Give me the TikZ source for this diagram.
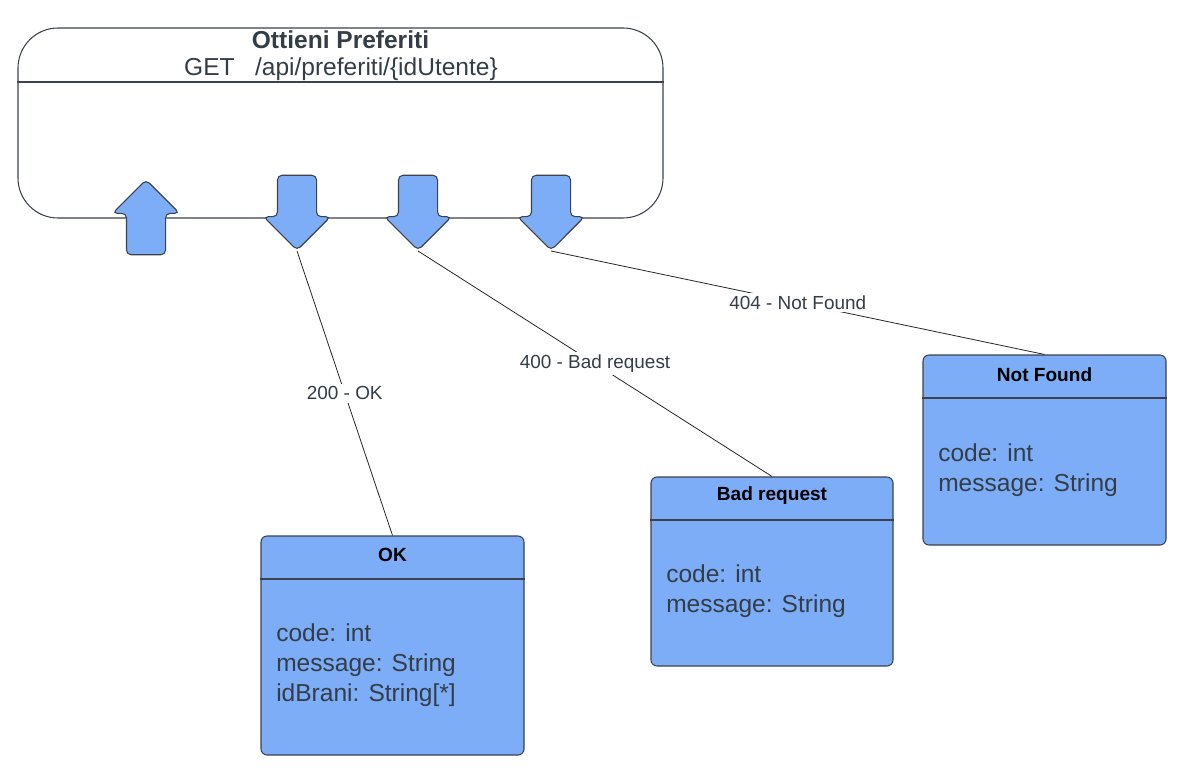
\documentclass[tikz,border=0pt]{standalone}
\usepackage{fontspec}
\setmainfont{Liberation Sans}
\usetikzlibrary{shapes.arrows}
\definecolor{portblue}{RGB}{125,173,247}
\definecolor{edgegray}{RGB}{59,66,76}
\definecolor{textgray}{RGB}{51,61,71}

\begin{document}
\begin{tikzpicture}[
    x=0.75pt, y=-0.75pt,
    every node/.style={align=center, text=textgray},
    endpoint box/.style={draw=edgegray, line width=0.8pt, rounded corners=30pt, minimum width=483.75pt, minimum height=142.5pt},
    port/.style={single arrow, draw=edgegray, fill=portblue, line width=0.8pt, rounded corners=3.5pt, minimum height=56.25pt, minimum width=49.5pt, single arrow head extend=10.5pt, inner sep=14.25pt},
    class box/.style={draw=edgegray, fill=portblue, line width=0.8pt, rounded corners=4.5pt},
    class title/.style={font=\bfseries\fontsize{14.3}{17}\selectfont, text=black},
    attrs/.style={align=left, anchor=west, inner sep=0pt, font=\fontsize{18.4}{22.5}\selectfont},
    divider/.style={draw=edgegray, line width=0.8pt},
    link/.style={draw=black!85, line width=0.6pt},
    link label/.style={fill=white, inner sep=2pt, font=\fontsize{14.2}{17}\selectfont},
    ]
\useasboundingbox (0,0) rectangle (1198,784);
% endpoint
\node[endpoint box] (ep) at (340.5,123) {};
\node[font=\bfseries\fontsize{18.4}{22}\selectfont] (epName) at (340.5,40) {Ottieni Preferiti};
\node[font=\fontsize{18.4}{22}\selectfont] (epUrl) at (341,69) {GET\ \ \ /api/preferiti/\{idUtente\}};
\draw[divider] (ep.west |- 0,82) -- (ep.east |- 0,82);
% ports
\node[port, shape border rotate=90, anchor=tip] (pIn) at (146,179) {};
\node[port, shape border rotate=270, anchor=tip] (p200) at (297,251) {};
\node[port, shape border rotate=270, anchor=tip] (p400) at (418,251) {};
\node[port, shape border rotate=270, anchor=tip] (p404) at (551,251) {};
% responses
\node[class box, minimum width=197.25pt, minimum height=164.25pt] (ok) at (392.5,645.5) {};
\node[class title] (okTitle) at (392.5,555) {OK};
\draw[divider] (ok.west |- 0,579) -- (ok.east |- 0,579);
\node[attrs] (okAttrs) at (276,665) {code: int\\message: String\\idBrani: String[*]};
\node[class box, minimum width=181.5pt, minimum height=141.75pt] (bad) at (772,571.5) {};
\node[class title] (badTitle) at (772,496) {Bad request};
\draw[divider] (bad.west |- 0,520) -- (bad.east |- 0,520);
\node[attrs] (badAttrs) at (666,591) {code: int\\message: String};
\node[class box, minimum width=182.25pt, minimum height=142.5pt] (nf) at (1044.5,450) {};
\node[class title] (nfTitle) at (1044.5,375) {Not Found};
\draw[divider] (nf.west |- 0,398) -- (nf.east |- 0,398);
\node[attrs] (nfAttrs) at (938,470) {code: int\\message: String};
% links
\draw[link] (p200.tip) -- node[link label] {200 - OK} (ok.north);
\draw[link] (p400.tip) -- node[link label] {400 - Bad request} (bad.north);
\draw[link] (p404.tip) -- node[link label] {404 - Not Found} (nf.north);
\end{tikzpicture}
\end{document}
